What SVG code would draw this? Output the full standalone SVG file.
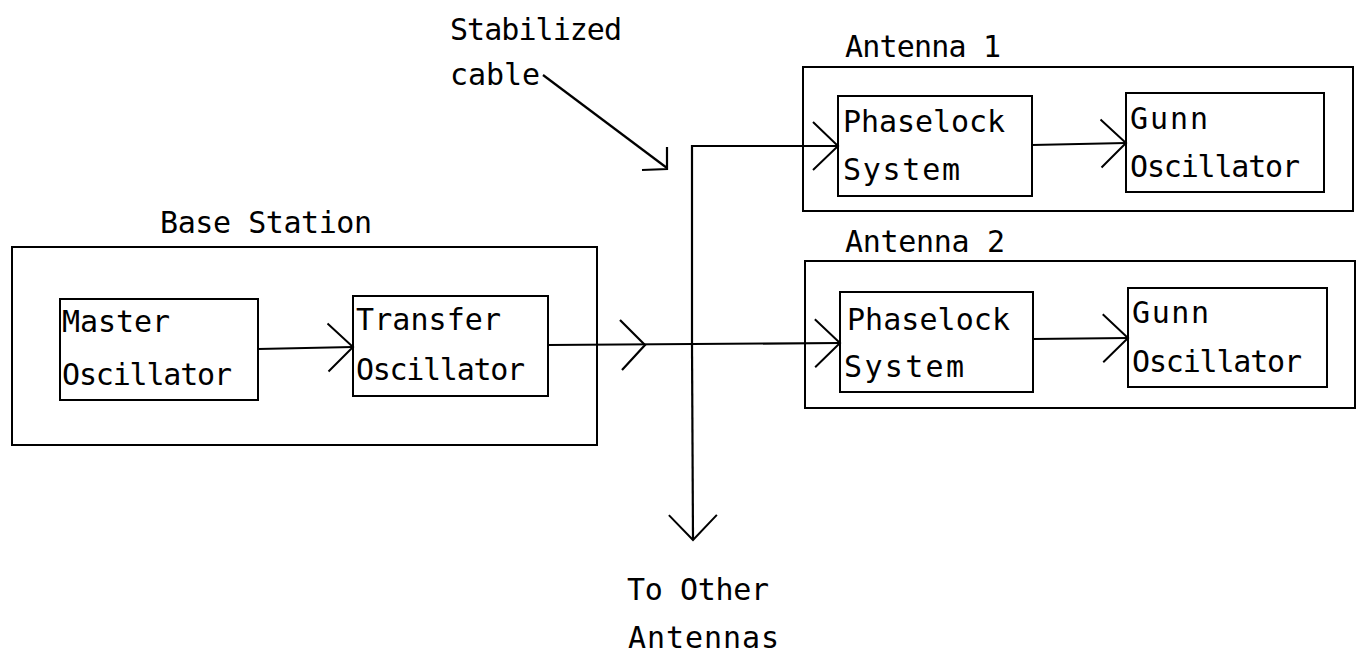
<svg xmlns="http://www.w3.org/2000/svg" width="1357" height="659" viewBox="0 0 1357 659">
<style>
.box{fill:none;stroke:#000;stroke-width:2}
.ln{fill:none;stroke:#000;stroke-width:2.2}
.t{font-family:"DejaVu Sans Mono","Liberation Mono",monospace;font-size:30px;fill:#000}
</style>
<defs>
<marker id="ah" markerUnits="userSpaceOnUse" viewBox="-28 -28 31 56" markerWidth="31" markerHeight="56" refX="0" refY="0" orient="auto" overflow="visible">
<path d="M-25,-24 L0,0 L-25,24" fill="none" stroke="#000" stroke-width="2"/>
</marker>
</defs>
<rect width="1357" height="659" fill="#fff"/>

<g id="labels">
<text class="t" x="450" y="40" textLength="172" lengthAdjust="spacing">Stabilized</text>
<text class="t" x="450" y="85" textLength="90" lengthAdjust="spacing">cable</text>
<text class="t" x="627" y="600" textLength="142" lengthAdjust="spacing">To Other</text>
<text class="t" x="628" y="648" textLength="151" lengthAdjust="spacing">Antennas</text>
</g>

<g id="base-station">
<rect class="box" x="12" y="247" width="585" height="198"/>
<text class="t" x="160" y="233" textLength="212" lengthAdjust="spacing">Base Station</text>
</g>
<g id="master-oscillator">
<rect class="box" x="60" y="299" width="198" height="101"/>
<text class="t" x="62" y="332" textLength="108" lengthAdjust="spacing">Master</text>
<text class="t" x="62" y="385" textLength="170" lengthAdjust="spacing">Oscillator</text>
</g>
<g id="transfer-oscillator">
<rect class="box" x="353" y="296" width="195" height="100"/>
<text class="t" x="356" y="330" textLength="145" lengthAdjust="spacing">Transfer</text>
<text class="t" x="356" y="380" textLength="169" lengthAdjust="spacing">Oscillator</text>
</g>

<g id="antenna-1">
<rect class="box" x="803" y="67" width="550" height="144"/>
<text class="t" x="845" y="57" textLength="156" lengthAdjust="spacing">Antenna 1</text>
</g>
<g id="phaselock-1">
<rect class="box" x="838" y="96" width="194" height="100"/>
<text class="t" x="843" y="132" textLength="162" lengthAdjust="spacing">Phaselock</text>
<text class="t" x="843" y="180" textLength="117" lengthAdjust="spacing">System</text>
</g>
<g id="gunn-1">
<rect class="box" x="1126" y="93" width="198" height="99"/>
<text class="t" x="1130" y="129" textLength="78" lengthAdjust="spacing">Gunn</text>
<text class="t" x="1130" y="177" textLength="170" lengthAdjust="spacing">Oscillator</text>
</g>

<g id="antenna-2">
<rect class="box" x="805" y="261" width="550" height="147"/>
<text class="t" x="845" y="252" textLength="160" lengthAdjust="spacing">Antenna 2</text>
</g>
<g id="phaselock-2">
<rect class="box" x="840" y="292" width="193" height="100"/>
<text class="t" x="847" y="330" textLength="163" lengthAdjust="spacing">Phaselock</text>
<text class="t" x="844" y="377" textLength="120" lengthAdjust="spacing">System</text>
</g>
<g id="gunn-2">
<rect class="box" x="1128" y="288" width="199" height="99"/>
<text class="t" x="1132" y="323" textLength="77" lengthAdjust="spacing">Gunn</text>
<text class="t" x="1132" y="372" textLength="170" lengthAdjust="spacing">Oscillator</text>
</g>

<g id="connectors">
<path class="ln" d="M258,349 L353,347" marker-end="url(#ah)"/>
<path class="ln" d="M548,345 L840,343" marker-end="url(#ah)"/>
<path class="ln" d="M620,320 L645,345 L622,370"/>
<path class="ln" d="M692,345 L692,146 L838,146" marker-end="url(#ah)"/>
<path class="ln" d="M692,345 L693,540" marker-end="url(#ah)"/>
<path class="ln" d="M1032,145 L1126,143" marker-end="url(#ah)"/>
<path class="ln" d="M1033,339 L1128,338" marker-end="url(#ah)"/>
<path class="ln" d="M543,75 L667,168"/>
<path class="ln" d="M667,147 L667,169 L642,170"/>
</g>
</svg>
